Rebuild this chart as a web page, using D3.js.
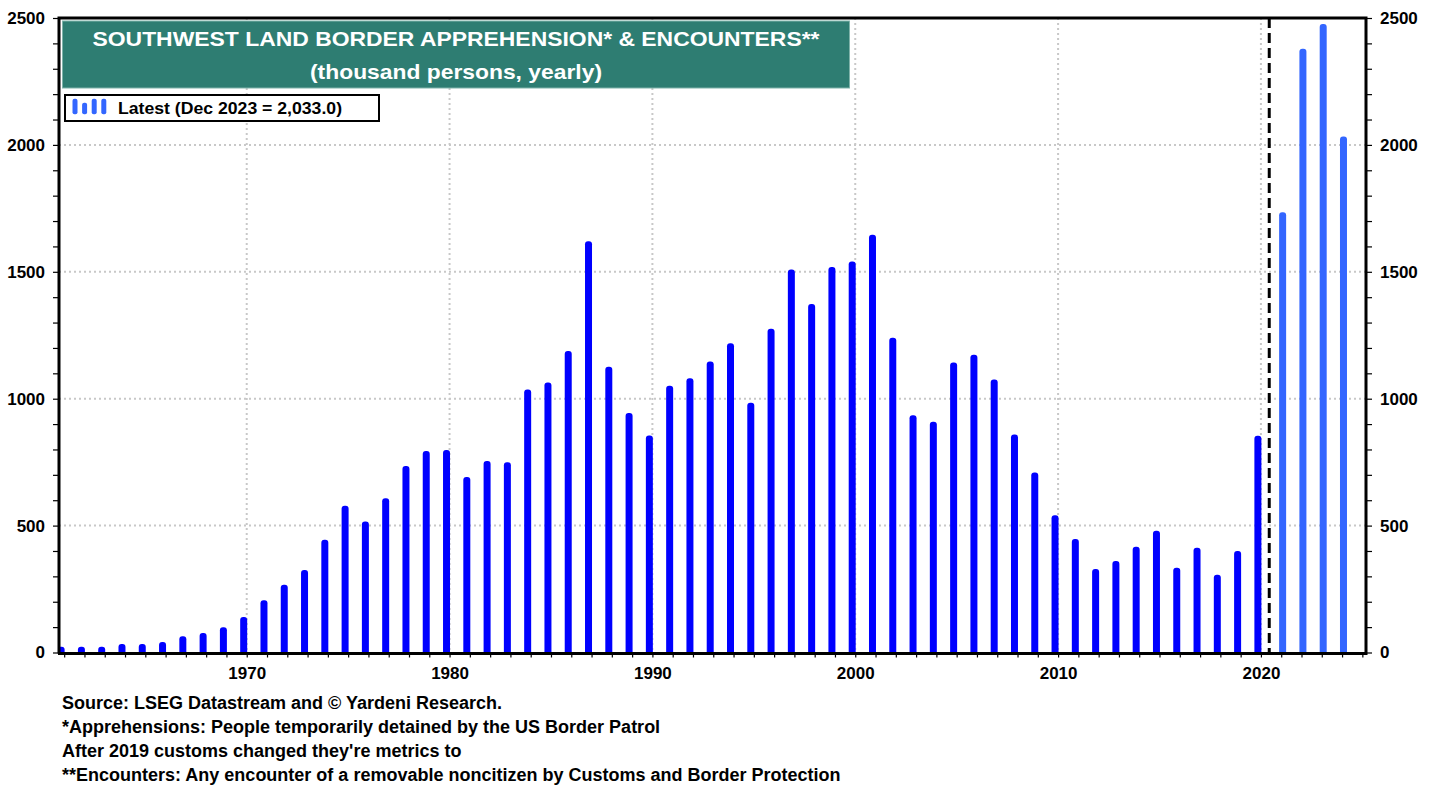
<!doctype html>
<html>
<head>
<meta charset="utf-8">
<script src="https://d3js.org/d3.v7.min.js"></script>
<style>
  body { margin: 0; background: #fff; }
  text { font-family: Arial, "Liberation Sans", sans-serif; font-weight: bold; }
</style>
</head>
<body>
<script>
// Southwest border apprehensions (thousand persons, fiscal years 1960-2019)
var years = d3.range(1960, 2020);
var apprehensions = [
  23, 23, 23, 33, 33, 41, 64, 77, 99, 140,
  206, 267, 325, 444, 578, 516, 608, 735, 794, 798,
  691, 755, 750, 1036, 1064, 1188, 1620, 1126, 944, 855,
  1051, 1081, 1147, 1218, 984, 1276, 1509, 1373, 1519, 1541,
  1646, 1240, 935, 909, 1143, 1173, 1076, 859, 709, 541,
  447, 329, 361, 417, 480, 334, 413, 306, 400, 854
];
// encounters after the metric change (Dec of each year)
var encYears = [2020, 2021, 2022, 2023];
var encounters = [1735, 2379, 2476, 2033];

var yTicks = d3.range(0, 2501, 100);
var yLabels = [0, 500, 1000, 1500, 2000, 2500];
var decades = [1970, 1980, 1990, 2000, 2010, 2020];
var breakYear = 2020.41;

var footnotes = [
  "Source: LSEG Datastream and \u00a9 Yardeni Research.",
  "*Apprehensions: People temporarily detained by the US Border Patrol",
  "After 2019 customs changed they're metrics to",
  "**Encounters: Any encounter of a removable noncitizen by Customs and Border Protection"
];

var width = 1438, height = 787;
var pLeft = 59, pRight = 1366, pTop = 18, pBottom = 652.5;

var x = d3.scaleLinear().domain([1960.745, 2025.18]).range([pLeft, pRight]);
var y = d3.scaleLinear().domain([0, 2500]).range([pBottom, pTop]);

var svg = d3.select("body").append("svg")
  .attr("width", width)
  .attr("height", height);

svg.append("clipPath").attr("id", "plot")
  .append("rect")
  .attr("x", pLeft).attr("y", pTop)
  .attr("width", pRight - pLeft).attr("height", pBottom - pTop);

// dotted grid
var grid = svg.append("g")
  .attr("stroke", "#c8c8c8")
  .attr("stroke-width", 2)
  .attr("stroke-dasharray", "2,3");
grid.selectAll(".gx").data(decades).enter().append("line")
  .attr("x1", function(d){ return x(d) }).attr("x2", function(d){ return x(d) })
  .attr("y1", pTop).attr("y2", pBottom);
grid.selectAll(".gy").data([500, 1000, 1500, 2000]).enter().append("line")
  .attr("x1", pLeft).attr("x2", pRight)
  .attr("y1", function(d){ return y(d) }).attr("y2", function(d){ return y(d) });

// bars
var barW = 7;
var bars = svg.append("g").attr("clip-path", "url(#plot)");
bars.selectAll(".old").data(apprehensions).enter().append("rect")
  .attr("x", function(d, i){ return x(years[i] + 0.85) - barW / 2 })
  .attr("y", function(d){ return y(d) })
  .attr("width", barW)
  .attr("height", function(d){ return pBottom - y(d) + 6 })
  .attr("rx", 3)
  .style("fill", "#0000ff");
bars.selectAll(".enc").data(encounters).enter().append("rect")
  .attr("x", function(d, i){ return x(encYears[i] + 1.07) - barW / 2 })
  .attr("y", function(d){ return y(d) })
  .attr("width", barW)
  .attr("height", function(d){ return pBottom - y(d) + 6 })
  .attr("rx", 3)
  .style("fill", "#3366ff");

// dashed break line
svg.append("line")
  .attr("x1", x(breakYear)).attr("x2", x(breakYear))
  .attr("y1", pTop).attr("y2", pBottom)
  .attr("stroke", "#000").attr("stroke-width", 3)
  .attr("stroke-dasharray", "10,5");

// axes
function fmtY(d){ return yLabels.indexOf(d) >= 0 ? d : "" }
var axL = svg.append("g")
  .attr("transform", "translate(" + pLeft + ",0)")
  .call(d3.axisLeft(y).tickValues(yTicks).tickSize(6).tickPadding(8).tickFormat(fmtY));
var axR = svg.append("g")
  .attr("transform", "translate(" + pRight + ",0)")
  .call(d3.axisRight(y).tickValues(yTicks).tickSize(6).tickPadding(8).tickFormat(fmtY));
var axB = svg.append("g")
  .attr("transform", "translate(0," + pBottom + ")")
  .call(d3.axisBottom(x).tickValues(d3.range(1961, 2026)).tickSize(5).tickPadding(9)
    .tickFormat(function(d){ return decades.indexOf(d) >= 0 ? d : "" }));
[axL, axR, axB].forEach(function(a){
  a.select(".domain").remove();
  a.selectAll("line").attr("stroke", "#000").attr("stroke-width", 1.2);
  a.selectAll("text").attr("fill", "#000")
    .style("font-size", "17px").style("font-family", "Arial, 'Liberation Sans', sans-serif")
    .style("font-weight", "bold");
});

// frame
svg.append("path")
  .attr("d", "M" + pLeft + "," + (pBottom + 1) + "V" + pTop + "H" + pRight + "V" + (pBottom + 1) + "H" + (pLeft - 1))
  .attr("fill", "none").attr("stroke", "#000").attr("stroke-width", 3);

// title box
svg.append("rect")
  .attr("x", 62.5).attr("y", 21).attr("width", 787).attr("height", 67)
  .attr("fill", "#2e7d72").attr("stroke", "#7fb3aa").attr("stroke-width", 1);
svg.append("text").attr("x", 456).attr("y", 46).attr("text-anchor", "middle")
  .attr("fill", "#fff").style("font-size", "21px")
  .attr("textLength", 727).attr("lengthAdjust", "spacingAndGlyphs")
  .text("SOUTHWEST LAND BORDER APPREHENSION* & ENCOUNTERS**");
svg.append("text").attr("x", 456).attr("y", 79).attr("text-anchor", "middle")
  .attr("fill", "#fff").style("font-size", "21px")
  .attr("textLength", 292).attr("lengthAdjust", "spacingAndGlyphs")
  .text("(thousand persons, yearly)");

// legend
svg.append("rect")
  .attr("x", 65).attr("y", 95).attr("width", 314).attr("height", 26)
  .attr("fill", "#fff").attr("stroke", "#000").attr("stroke-width", 2);
var icon = [15.5, 11.5, 15.5, 15.5];
svg.selectAll(".icon").data(icon).enter().append("rect")
  .attr("x", function(d, i){ return 72.5 + i * 9.6 })
  .attr("y", function(d){ return 114.3 - d })
  .attr("width", 5).attr("height", function(d){ return d })
  .attr("rx", 2)
  .attr("fill", "#3366ff");
svg.append("text").attr("x", 118).attr("y", 113.5)
  .style("font-size", "17px").attr("fill", "#000")
  .attr("textLength", 224).attr("lengthAdjust", "spacingAndGlyphs")
  .text("Latest (Dec 2023 = 2,033.0)");

// footnotes
svg.selectAll(".foot").data(footnotes).enter().append("text")
  .attr("x", 62)
  .attr("y", function(d, i){ return 709 + i * 24 })
  .style("font-size", "18px").attr("fill", "#000")
  .text(function(d){ return d });
</script>
</body>
</html>
